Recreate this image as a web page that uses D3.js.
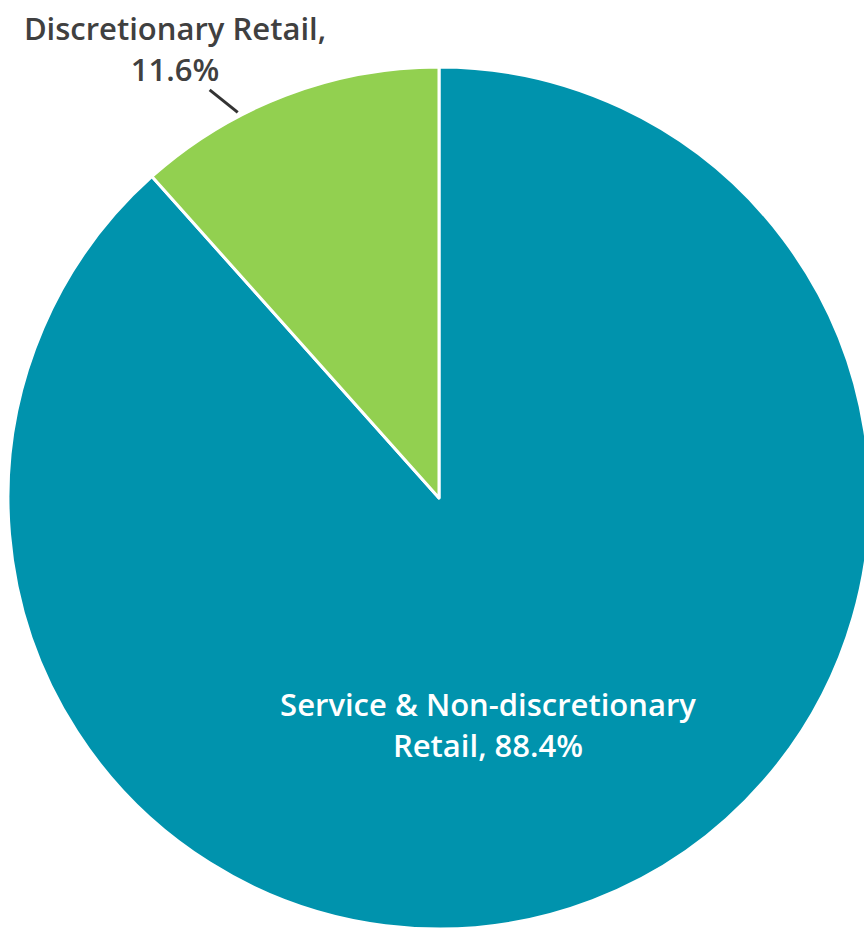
<!DOCTYPE html>
<html>
<head>
<meta charset="utf-8">
<script src="https://cdn.jsdelivr.net/npm/d3@7"></script>
<style>
  body { margin: 0; background: #fff; }
  svg { display: block; font-family: "Open Sans", "Noto Sans", sans-serif; }
</style>
</head>
<body>
<svg id="chart"></svg>
<script>
const w = 864, h = 928;

// slice data, clockwise from 12 o'clock
const categories = ["Service & Non-discretionary Retail", "Discretionary Retail"];
const values = [88.4, 11.6];
const colors = ["#0093ad", "#92d050"];
const labelLines = [
  ["Service & Non-discretionary", "Retail, 88.4%"],
  ["Discretionary Retail,", "11.6%"]
];

const cx = 439, cy = 498, r = 431;

var svg = d3.select('#chart')
  .attr('width', w)
  .attr('height', h);

var pie = d3.pie().sort(null).value(function(d){return d;});
var arcs = pie(values);

var arc = d3.arc().innerRadius(0).outerRadius(r);

var g = svg.append('g').attr('transform', 'translate(' + cx + ',' + cy + ')');

g.selectAll('path')
  .data(arcs)
  .enter()
  .append('path')
  .attr('d', arc)
  .attr('fill', function(d,i){return colors[i];})
  .style('stroke', '#fff')
  .style('stroke-width', 3)
  .style('stroke-linejoin', 'round');

// inside label for the big slice
var inner = g.append('text')
  .attr('text-anchor', 'middle')
  .attr('fill', '#fff')
  .style('font-size', '31px')
  .style('font-weight', 600);
inner.selectAll('tspan')
  .data(labelLines[0])
  .enter()
  .append('tspan')
  .attr('x', 488 - cx)
  .attr('y', function(d,i){return 716 - cy + i * 41;})
  .text(function(d){return d;});

// outside label for the small slice
var lx = 175 - cx, ly = 40 - cy;
var outer = g.append('text')
  .attr('text-anchor', 'middle')
  .attr('fill', '#404040')
  .style('font-size', '31px')
  .style('font-weight', 600);
outer.selectAll('tspan')
  .data(labelLines[1])
  .enter()
  .append('tspan')
  .attr('x', lx)
  .attr('y', function(d,i){return ly + i * 41;})
  .text(function(d){return d;});

// leader line from the slice edge towards the label
var a = arcs[1].startAngle + 0.34 * (arcs[1].endAngle - arcs[1].startAngle);
var p1 = [Math.sin(a) * (r + 4), -Math.cos(a) * (r + 4)];
var tx = lx - p1[0], ty = (ly + 22) - p1[1];
var len = Math.sqrt(tx * tx + ty * ty);
var p0 = [p1[0] + tx / len * 36, p1[1] + ty / len * 36];
g.append('line')
  .attr('x1', p0[0]).attr('y1', p0[1])
  .attr('x2', p1[0]).attr('y2', p1[1])
  .style('stroke', '#333')
  .style('stroke-width', 3);
</script>
</body>
</html>
